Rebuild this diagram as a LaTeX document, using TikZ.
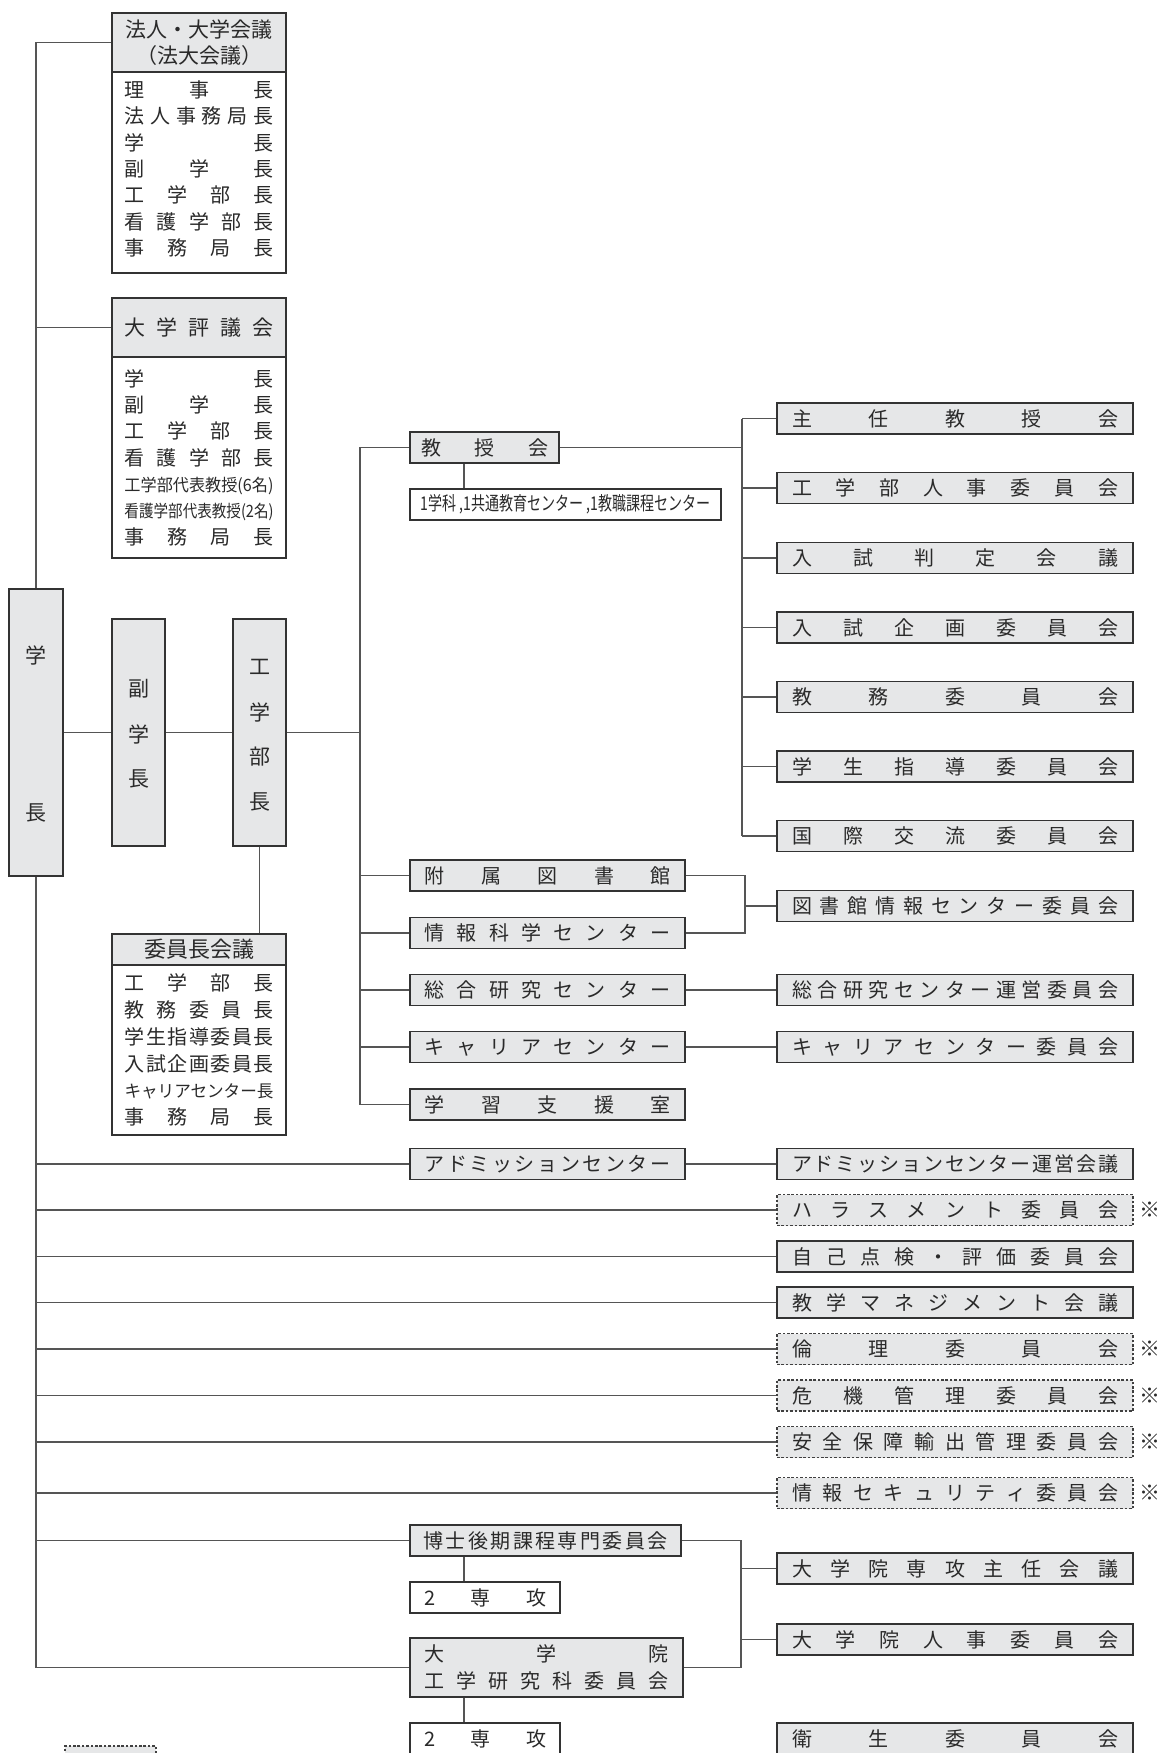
\documentclass[tikz,border=0pt]{standalone}
\usepackage{fontspec}
\usepackage{graphicx}
\setmainfont{Noto Sans CJK JP}
\definecolor{boxfill}{HTML}{E6E7E8}
\definecolor{bordc}{HTML}{333333}
\definecolor{linec}{HTML}{555555}
\definecolor{dashc}{HTML}{404040}
\definecolor{txtc}{HTML}{2A2A2A}
\makeatletter
\def\jsp@loop#1{\ifx#1\relax\else\hfill#1\expandafter\jsp@loop\fi}
\def\jsp@first#1{#1\jsp@loop}
\newcommand\jspread[2]{\makebox[#1][s]{\jsp@first#2\relax}}
\makeatother
\newcommand\jfs{\fontsize{20}{24}\selectfont}
\newcommand\hfs{\fontsize{21}{25.5}\selectfont}
\newcommand\bfs{\fontsize{20}{26.3}\selectfont}
\newcommand\cfs{\fontsize{20}{26.8}\selectfont}
\newcommand\vfs{\fontsize{21}{24}\selectfont}
\newcommand\condensed[2]{\resizebox{#1}{\height}{\fontsize{17}{20}\selectfont #2}}
\begin{document}
\begin{tikzpicture}[x=1pt,y=-1pt,
  gbox/.style={draw=bordc, line width=1.2pt, fill=boxfill, inner sep=0pt, text=txtc, font=\jfs},
  wbox/.style={gbox, fill=white},
  dbox/.style={gbox, draw=dashc, line width=1.1pt, dash pattern=on 2.6pt off 1.8pt},
  rc/.style={minimum width=356pt, minimum height=31pt},
  mc/.style={minimum width=275pt, minimum height=31pt},
  cline/.style={draw=linec, line width=1.2pt},
  lbl/.style={inner sep=0pt, text=txtc, font=\vfs},
  kome/.style={inner sep=0pt, text=txtc, font=\fontsize{21}{24}\selectfont}]
\clip (0,0) rectangle (1159,1753);
\fill[white] (0,0) rectangle (1159,1753);

% left column boxes
\node[gbox, minimum width=174pt, minimum height=59pt, align=center, font=\hfs] (hqh) at (199,42.5) {法人・大学会議\\（法大会議）};
\node[wbox, minimum width=174pt, minimum height=201pt] (hqb) at (199,172.5) {};
\node[lbl, align=center, font=\bfs] (hqt) at (199,169)
 {\jspread{149pt}{理事長}\\\jspread{149pt}{法人事務局長}\\\jspread{149pt}{学長}\\\jspread{149pt}{副学長}\\\jspread{149pt}{工学部長}\\\jspread{149pt}{看護学部長}\\\jspread{149pt}{事務局長}};

\node[gbox, minimum width=174pt, minimum height=59pt, font=\hfs] (hyh) at (199,327.5) {\jspread{149pt}{大学評議会}};
\node[wbox, minimum width=174pt, minimum height=201pt, align=center, font=\bfs] (hyb) at (199,457.5)
 {\jspread{149pt}{学長}\\\jspread{149pt}{副学長}\\\jspread{149pt}{工学部長}\\\jspread{149pt}{看護学部長}\\\condensed{149pt}{工学部代表教授(6名)}\\\condensed{149pt}{看護学部代表教授(2名)}\\\jspread{149pt}{事務局長}};

\node[gbox, minimum width=54pt, minimum height=287pt] (gakucho) at (36,732.5) {};
\node[lbl] (gk1) at (36,655) {学};
\node[lbl] (gk2) at (36,813) {長};
\node[gbox, minimum width=53pt, minimum height=227pt] (fuku) at (138.5,732.5) {};
\node[lbl] (fk1) at (138.5,689) {副};
\node[lbl] (fk2) at (138.5,734) {学};
\node[lbl] (fk3) at (138.5,779) {長};
\node[gbox, minimum width=53pt, minimum height=227pt] (kogaku) at (259.5,732.5) {};
\node[lbl] (kg1) at (259.5,667) {工};
\node[lbl] (kg2) at (259.5,712) {学};
\node[lbl] (kg3) at (259.5,757) {部};
\node[lbl] (kg4) at (259.5,802) {長};

\node[gbox, minimum width=174pt, minimum height=31pt, font=\fontsize{22}{25}\selectfont] (iinh) at (199,949.5) {委員長会議};
\node[wbox, minimum width=174pt, minimum height=170pt, align=center, font=\cfs] (iinb) at (199,1050)
 {\jspread{149pt}{工学部長}\\\jspread{149pt}{教務委員長}\\\jspread{149pt}{学生指導委員長}\\\jspread{149pt}{入試企画委員長}\\\condensed{149pt}{キャリアセンター長}\\\jspread{149pt}{事務局長}};

% middle
\node[gbox, minimum width=149pt, minimum height=31pt] (kyoju) at (484.5,447.5) {\jspread{127pt}{教授会}};
\node[wbox, minimum width=311pt, minimum height=31pt] (kyosub) at (565.5,504.5) {\resizebox{290pt}{\height}{\fontsize{19}{22}\selectfont 1学科 ,1共通教育センター ,1教職課程センター}};
\node[gbox, mc] (fuzoku) at (547.5,875.5) {\jspread{246pt}{附属図書館}};
\node[gbox, mc] (johoc) at (547.5,933) {\jspread{246pt}{情報科学センター}};
\node[gbox, mc] (sogo) at (547.5,990) {\jspread{246pt}{総合研究センター}};
\node[gbox, mc] (career) at (547.5,1047) {\jspread{246pt}{キャリアセンター}};
\node[gbox, mc] (shien) at (547.5,1104.5) {\jspread{246pt}{学習支援室}};
\node[gbox, mc] (adm) at (547.5,1164) {\jspread{246pt}{アドミッションセンター}};
\node[gbox, minimum width=271pt, minimum height=31pt] (hakase) at (545.5,1540.5) {\jspread{244pt}{博士後期課程専門委員会}};
\node[wbox, minimum width=150pt, minimum height=31pt] (sen1) at (485,1597.5) {\jspread{122pt}{2専攻}};
\node[gbox, minimum width=273pt, minimum height=59pt, align=center, font=\fontsize{20}{27}\selectfont] (dkin) at (546.5,1667.5) {\jspread{244pt}{大学院}\\\jspread{244pt}{工学研究科委員会}};
\node[wbox, minimum width=150pt, minimum height=31pt] (sen2) at (485,1738.5) {\jspread{122pt}{2専攻}};

% right column
\node[gbox, rc] (shunin) at (955,418.5) {\jspread{326pt}{主任教授会}};
\node[gbox, rc] (jinjiK) at (955,488) {\jspread{326pt}{工学部人事委員会}};
\node[gbox, rc] (hantei) at (955,558) {\jspread{326pt}{入試判定会議}};
\node[gbox, rc] (kikaku) at (955,627.5) {\jspread{326pt}{入試企画委員会}};
\node[gbox, rc] (kyomu) at (955,697) {\jspread{326pt}{教務委員会}};
\node[gbox, rc] (gakusei) at (955,766.5) {\jspread{326pt}{学生指導委員会}};
\node[gbox, rc] (kokusai) at (955,836) {\jspread{326pt}{国際交流委員会}};
\node[gbox, rc] (toshoi) at (955,906) {\jspread{326pt}{図書館情報センター委員会}};
\node[gbox, rc] (sogoi) at (955,990) {\jspread{326pt}{総合研究センター運営委員会}};
\node[gbox, rc] (careeri) at (955,1047) {\jspread{326pt}{キャリアセンター委員会}};
\node[gbox, rc] (admi) at (955,1164) {\jspread{326pt}{アドミッションセンター運営会議}};
\node[dbox, rc] (hara) at (955,1210) {\jspread{326pt}{ハラスメント委員会}};
\node[gbox, rc] (jiko) at (955,1256.5) {\jspread{326pt}{自己点検・評価委員会}};
\node[gbox, rc] (kyogaku) at (955,1302.5) {\jspread{326pt}{教学マネジメント会議}};
\node[dbox, rc] (rinri) at (955,1349) {\jspread{326pt}{倫理委員会}};
\node[dbox, rc] (kiki) at (955,1395.5) {\jspread{326pt}{危機管理委員会}};
\node[dbox, rc] (anzen) at (955,1442) {\jspread{326pt}{安全保障輸出管理委員会}};
\node[dbox, rc] (johosec) at (955,1493) {\jspread{326pt}{情報セキュリティ委員会}};
\node[gbox, rc] (senko) at (955,1568.5) {\jspread{326pt}{大学院専攻主任会議}};
\node[gbox, rc] (jinjiG) at (955,1639.5) {\jspread{326pt}{大学院人事委員会}};
\node[gbox, rc] (eisei) at (955,1738.5) {\jspread{326pt}{衛生委員会}};

\node[kome] (k1) at (1150,1210) {※};
\node[kome] (k2) at (1150,1349) {※};
\node[kome] (k3) at (1150,1395.5) {※};
\node[kome] (k4) at (1150,1442) {※};
\node[kome] (k5) at (1150,1493) {※};

\node[dbox, minimum width=91pt, minimum height=31pt] (legend) at (110.5,1761.5) {};

% junction coordinates
\coordinate (tr2) at (360,0);
\coordinate (tr3) at (742,0);
\coordinate (br1) at (745,0);
\coordinate (br2) at (741,0);
\coordinate (vk) at (464,0);

% main trunk
\draw[cline] (hqh.west) -- (hqh.west -| gakucho.north) -- (gakucho.north);
\draw[cline] (hyh.west) -- (hyh.west -| gakucho.north);
\draw[cline] (gakucho.south) -- (gakucho.south |- dkin.west) -- (dkin.west);
\foreach \n in {adm,hara,jiko,kyogaku,rinri,kiki,anzen,johosec,hakase}
  \draw[cline] (\n.west) -- (\n.west -| gakucho.south);

% chain
\draw[cline] (gakucho.east) -- (fuku.west);
\draw[cline] (fuku.east) -- (kogaku.west);
\draw[cline] (kogaku.east) -- (kogaku.east -| tr2);
\draw[cline] (kogaku.south) -- (kogaku.south |- iinh.north);

% second trunk
\draw[cline] (kyoju.west) -- (kyoju.west -| tr2) -- (shien.west -| tr2) -- (shien.west);
\foreach \n in {fuzoku,johoc,sogo,career}
  \draw[cline] (\n.west) -- (\n.west -| tr2);
\draw[cline] (kyoju.south -| vk) -- (kyosub.north -| vk);

% right branch
\draw[cline] (kyoju.east) -- (kyoju.east -| tr3);
\draw[cline] (shunin.west -| tr3) -- (kokusai.west -| tr3);
\foreach \n in {shunin,jinjiK,hantei,kikaku,kyomu,gakusei,kokusai}
  \draw[cline] (\n.west) -- (\n.west -| tr3);

% library bracket
\draw[cline] (fuzoku.east) -- (fuzoku.east -| br1) -- (johoc.east -| br1) -- (johoc.east);
\draw[cline] (toshoi.west) -- (toshoi.west -| br1);
\draw[cline] (sogo.east) -- (sogoi.west);
\draw[cline] (career.east) -- (careeri.west);
\draw[cline] (adm.east) -- (admi.west);

% graduate bracket
\draw[cline] (hakase.east) -- (hakase.east -| br2) -- (dkin.east -| br2) -- (dkin.east);
\draw[cline] (senko.west) -- (senko.west -| br2);
\draw[cline] (jinjiG.west) -- (jinjiG.west -| br2);
\draw[cline] (hakase.south -| vk) -- (sen1.north -| vk);
\draw[cline] (dkin.south -| vk) -- (sen2.north -| vk);
\end{tikzpicture}
\end{document}
